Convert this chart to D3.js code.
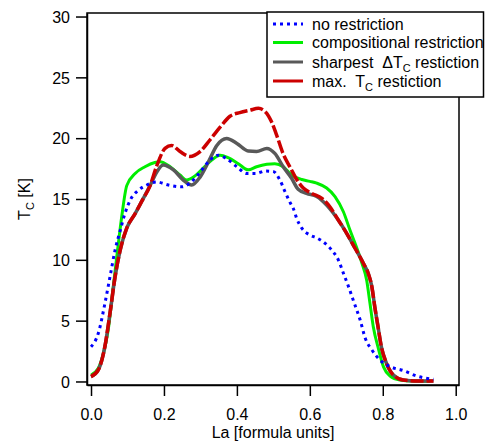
<!DOCTYPE html>
<html><head><meta charset="utf-8">
<script src="https://cdn.jsdelivr.net/npm/d3@7"></script>
<style>
html,body{margin:0;padding:0;background:#fff;}
svg{display:block;font-family:"Liberation Sans",Arial,sans-serif;}
</style></head>
<body>
<script>
// ---- data ----
const xTicks = [0.0, 0.2, 0.4, 0.6, 0.8, 1.0];
const yTicks = [0, 5, 10, 15, 20, 25, 30];
const seriesNames = ["no restriction", "compositional restriction", "sharpest  \u0394T_C restiction", "max.  T_C restiction"];

const noRestriction = [[0,2.85],[0.02,3.96],[0.038,6.4],[0.052,8.6],[0.066,10.8],[0.08,12.4],[0.093,13.8],[0.11,15.05],[0.129,15.7],[0.153,16.15],[0.18,16.4],[0.212,16.15],[0.249,16.0],[0.271,16.3],[0.299,17.2],[0.326,18.2],[0.349,18.6],[0.372,18.3],[0.4,17.65],[0.427,17.1],[0.454,17.1],[0.477,17.3],[0.5,17.25],[0.518,16.55],[0.532,15.6],[0.546,14.7],[0.555,14.2],[0.564,13.4],[0.578,12.6],[0.6,12.04],[0.619,11.8],[0.642,11.35],[0.66,10.8],[0.678,10.0],[0.692,8.9],[0.706,7.8],[0.72,6.6],[0.738,5.05],[0.752,3.55],[0.77,2.6],[0.792,1.77],[0.82,1.22],[0.856,0.9],[0.893,0.45],[0.939,0.18]];

const compositional = [[0,0.53],[0.02,1.08],[0.034,2.3],[0.047,4.2],[0.061,7.8],[0.075,11.35],[0.084,13.5],[0.098,16.1],[0.121,17.1],[0.148,17.65],[0.175,18.0],[0.189,18.06],[0.217,17.65],[0.244,16.97],[0.262,16.56],[0.281,16.8],[0.303,17.4],[0.331,18.2],[0.354,18.6],[0.376,18.4],[0.404,17.9],[0.431,17.4],[0.454,17.65],[0.482,17.85],[0.504,17.9],[0.527,17.65],[0.55,16.97],[0.578,16.6],[0.6,16.45],[0.619,16.3],[0.646,15.9],[0.669,15.2],[0.692,13.95],[0.71,12.45],[0.729,10.95],[0.742,9.8],[0.756,8.3],[0.765,6.4],[0.774,4.5],[0.788,2.7],[0.802,1.2],[0.82,0.45],[0.847,0.12],[0.88,0.03],[0.93,0.02]];

const sharpest = [[0,0.4],[0.02,0.95],[0.038,2.86],[0.052,5.6],[0.066,8.6],[0.08,10.8],[0.098,12.6],[0.121,13.8],[0.139,14.8],[0.162,16.1],[0.18,17.2],[0.198,17.8],[0.226,17.4],[0.253,16.56],[0.276,16.15],[0.299,16.8],[0.322,18.06],[0.345,19.4],[0.372,19.97],[0.4,19.57],[0.431,18.94],[0.454,18.9],[0.482,19.16],[0.504,18.75],[0.527,17.65],[0.55,16.7],[0.568,15.8],[0.591,15.46],[0.619,15.2],[0.646,14.5],[0.678,13.27],[0.701,12.18],[0.724,10.95],[0.747,9.7],[0.76,8.9],[0.77,7.8],[0.778,6.15],[0.787,4.5],[0.796,2.86],[0.81,1.5],[0.829,0.53],[0.856,0.12],[0.893,0.04],[0.939,0.04]];

const maxTc = [[0,0.4],[0.02,0.95],[0.038,2.86],[0.052,5.6],[0.066,8.6],[0.08,10.8],[0.098,12.6],[0.121,13.8],[0.139,14.8],[0.162,16.1],[0.18,17.7],[0.203,19.16],[0.221,19.4],[0.244,18.9],[0.271,18.5],[0.299,18.9],[0.326,19.85],[0.354,20.9],[0.381,21.8],[0.408,22.1],[0.436,22.3],[0.459,22.45],[0.477,22.2],[0.495,21.35],[0.509,20.25],[0.527,18.7],[0.546,17.6],[0.564,16.6],[0.582,15.9],[0.605,15.46],[0.633,15.05],[0.655,14.36],[0.678,13.27],[0.701,12.18],[0.724,10.95],[0.747,9.7],[0.76,8.9],[0.77,7.8],[0.778,6.15],[0.787,4.5],[0.796,2.86],[0.81,1.5],[0.829,0.53],[0.856,0.12],[0.893,0.04],[0.939,0.04]];

// ---- layout ----
const W = 485, H = 442;
const L = 87, R = 459, T = 13, B = 385;
const FS = 16;

const svg = d3.select("body").append("svg").attr("width", W).attr("height", H);

const x = d3.scaleLinear().domain([-0.011, 1.009]).range([L, R]);
const y = d3.scaleLinear().domain([-0.29, 30.29]).range([B, T]);

// frame
svg.append("rect").attr("x", L).attr("y", T).attr("width", R - L).attr("height", B - T)
  .attr("fill", "none").attr("stroke", "#000").attr("stroke-width", 1.5);

// axes
const xAxis = svg.append("g").attr("transform", `translate(0,${B})`)
  .call(d3.axisBottom(x).tickValues(xTicks).tickFormat(d3.format(".1f")).tickSize(11).tickSizeOuter(0));
const yAxis = svg.append("g").attr("transform", `translate(${L},0)`)
  .call(d3.axisLeft(y).tickValues(yTicks).tickFormat(d3.format("d")).tickSize(11).tickSizeOuter(0));
[xAxis, yAxis].forEach(g => {
  g.select(".domain").attr("stroke", "#000").attr("stroke-width", 1.5);
  g.selectAll(".tick line").attr("stroke", "#000").attr("stroke-width", 1.5);
  g.selectAll(".tick text").attr("fill", "#000").attr("font-size", FS)
    .attr("font-family", '"Liberation Sans",Arial,sans-serif');
});
xAxis.selectAll(".tick text").attr("dy", null).attr("y", 35);
yAxis.selectAll(".tick text").attr("x", -17).attr("dy", "0.36em");

// axis labels
svg.append("text").attr("x", (L + R) / 2).attr("y", 438).attr("text-anchor", "middle")
  .attr("font-size", FS).text("La [formula units]");
const yl = svg.append("text").attr("transform", `translate(30,${(T + B) / 2}) rotate(-90)`)
  .attr("text-anchor", "middle").attr("font-size", FS);
yl.append("tspan").text("T");
yl.append("tspan").attr("font-size", 11).attr("dy", 4).text("C");
yl.append("tspan").attr("dy", -4).text(" [K]");

// lines
const line = d3.line().x(d => x(d[0])).y(d => y(d[1])).curve(d3.curveMonotoneX);
const styles = [
  {data: compositional, color: "#00ee00", w: 3, dash: null},
  {data: sharpest, color: "#595959", w: 3.5, dash: null},
  {data: maxTc, color: "#cc0000", w: 3.5, dash: "13,3"},
  {data: noRestriction, color: "#0000ff", w: 3, dash: "3,4"}
];
styles.forEach(s => {
  svg.append("path").datum(s.data).attr("d", line).attr("fill", "none")
    .attr("stroke", s.color).attr("stroke-width", s.w)
    .attr("stroke-dasharray", s.dash).attr("stroke-linejoin", "round");
});

// legend
const lg = svg.append("g");
lg.append("rect").attr("x", 267).attr("y", 12).attr("width", 216.5).attr("height", 85)
  .attr("fill", "#fff").attr("stroke", "#000").attr("stroke-width", 1.5);
const legColors = ["#0000ff", "#00ee00", "#595959", "#cc0000"];
const legDash = ["3,4", null, null, null];
const legRowY = [24, 42.5, 62, 81];
seriesNames.forEach((name, i) => {
  const ry = legRowY[i];
  lg.append("line").attr("x1", 273).attr("x2", 303).attr("y1", ry).attr("y2", ry)
    .attr("stroke", legColors[i]).attr("stroke-width", 3).attr("stroke-dasharray", legDash[i]);
  const t = lg.append("text").attr("x", 312).attr("y", ry + 5.5).attr("font-size", FS)
    .style("white-space", "pre");
  const parts = name.split("_");
  if (parts.length === 1) {
    t.text(name);
  } else {
    t.append("tspan").text(parts[0]);
    t.append("tspan").attr("font-size", 11).attr("dy", 4).text(parts[1][0]);
    t.append("tspan").attr("dy", -4).text(parts[1].slice(1));
  }
});
</script>
</body></html>
